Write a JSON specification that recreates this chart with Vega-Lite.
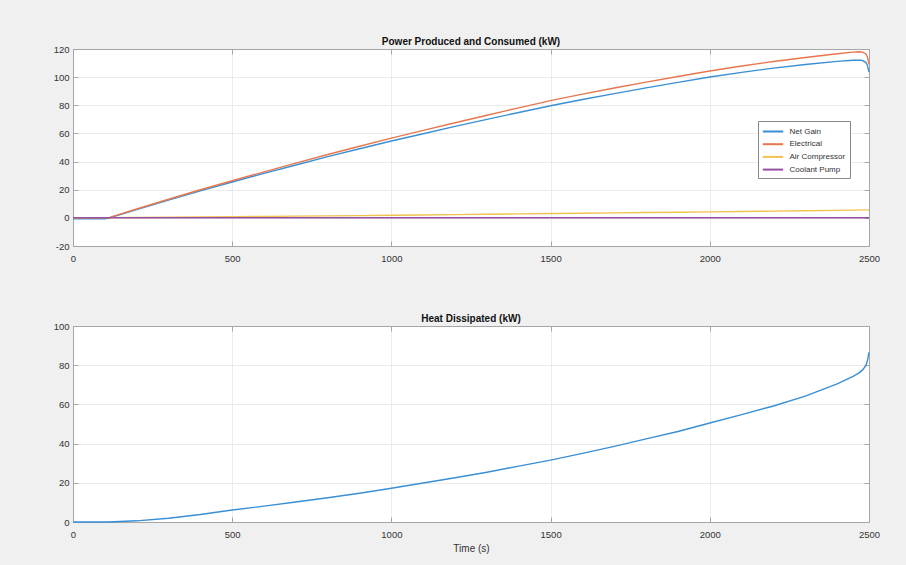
{
  "$schema": "https://vega.github.io/schema/vega-lite/v6.json",
  "padding": {"left": 52, "top": 36, "right": 25, "bottom": 18},
  "datasets": {
    "power": [
      {"t":0,"s":"Net Gain","p":-0.6},{"t":100,"s":"Net Gain","p":-0.6},{"t":110,"s":"Net Gain","p":-0.4},{"t":200,"s":"Net Gain","p":5.8},{"t":300,"s":"Net Gain","p":12.6},{"t":400,"s":"Net Gain","p":19.2},{"t":500,"s":"Net Gain","p":25.5},{"t":600,"s":"Net Gain","p":31.6},{"t":700,"s":"Net Gain","p":37.6},{"t":800,"s":"Net Gain","p":43.5},{"t":900,"s":"Net Gain","p":49.1},{"t":1000,"s":"Net Gain","p":54.6},{"t":1100,"s":"Net Gain","p":59.8},{"t":1200,"s":"Net Gain","p":65.0},{"t":1300,"s":"Net Gain","p":70.0},{"t":1400,"s":"Net Gain","p":74.9},{"t":1500,"s":"Net Gain","p":79.7},{"t":1600,"s":"Net Gain","p":84.1},{"t":1700,"s":"Net Gain","p":88.3},{"t":1800,"s":"Net Gain","p":92.4},{"t":1900,"s":"Net Gain","p":96.3},{"t":2000,"s":"Net Gain","p":100.1},{"t":2100,"s":"Net Gain","p":103.4},{"t":2200,"s":"Net Gain","p":106.4},{"t":2300,"s":"Net Gain","p":109.0},{"t":2400,"s":"Net Gain","p":111.2},{"t":2450,"s":"Net Gain","p":112.0},{"t":2470,"s":"Net Gain","p":112.1},{"t":2480,"s":"Net Gain","p":111.8},{"t":2490,"s":"Net Gain","p":110.5},{"t":2495,"s":"Net Gain","p":108.5},{"t":2500,"s":"Net Gain","p":103.6},
      {"t":0,"s":"Electrical","p":0},{"t":100,"s":"Electrical","p":0},{"t":110,"s":"Electrical","p":0},{"t":200,"s":"Electrical","p":6.3},{"t":300,"s":"Electrical","p":13.2},{"t":400,"s":"Electrical","p":20.0},{"t":500,"s":"Electrical","p":26.4},{"t":600,"s":"Electrical","p":32.7},{"t":700,"s":"Electrical","p":38.9},{"t":800,"s":"Electrical","p":45.0},{"t":900,"s":"Electrical","p":50.9},{"t":1000,"s":"Electrical","p":56.7},{"t":1100,"s":"Electrical","p":62.2},{"t":1200,"s":"Electrical","p":67.6},{"t":1300,"s":"Electrical","p":72.9},{"t":1400,"s":"Electrical","p":78.2},{"t":1500,"s":"Electrical","p":83.3},{"t":1600,"s":"Electrical","p":87.9},{"t":1700,"s":"Electrical","p":92.3},{"t":1800,"s":"Electrical","p":96.5},{"t":1900,"s":"Electrical","p":100.5},{"t":2000,"s":"Electrical","p":104.4},{"t":2100,"s":"Electrical","p":107.9},{"t":2200,"s":"Electrical","p":111.1},{"t":2300,"s":"Electrical","p":114.0},{"t":2400,"s":"Electrical","p":116.6},{"t":2450,"s":"Electrical","p":117.8},{"t":2470,"s":"Electrical","p":118.0},{"t":2480,"s":"Electrical","p":117.8},{"t":2490,"s":"Electrical","p":116.5},{"t":2495,"s":"Electrical","p":114.5},{"t":2500,"s":"Electrical","p":109.0},
      {"t":0,"s":"Air Compressor","p":0.1},{"t":110,"s":"Air Compressor","p":0.15},{"t":200,"s":"Air Compressor","p":0.3},{"t":300,"s":"Air Compressor","p":0.45},{"t":400,"s":"Air Compressor","p":0.6},{"t":500,"s":"Air Compressor","p":0.8},{"t":600,"s":"Air Compressor","p":1.0},{"t":700,"s":"Air Compressor","p":1.2},{"t":800,"s":"Air Compressor","p":1.4},{"t":900,"s":"Air Compressor","p":1.6},{"t":1000,"s":"Air Compressor","p":1.8},{"t":1100,"s":"Air Compressor","p":2.05},{"t":1200,"s":"Air Compressor","p":2.3},{"t":1300,"s":"Air Compressor","p":2.55},{"t":1400,"s":"Air Compressor","p":2.8},{"t":1500,"s":"Air Compressor","p":3.05},{"t":1600,"s":"Air Compressor","p":3.3},{"t":1700,"s":"Air Compressor","p":3.55},{"t":1800,"s":"Air Compressor","p":3.8},{"t":1900,"s":"Air Compressor","p":4.0},{"t":2000,"s":"Air Compressor","p":4.25},{"t":2100,"s":"Air Compressor","p":4.5},{"t":2200,"s":"Air Compressor","p":4.75},{"t":2300,"s":"Air Compressor","p":5.0},{"t":2400,"s":"Air Compressor","p":5.3},{"t":2500,"s":"Air Compressor","p":5.7},
      {"t":0,"s":"Coolant Pump","p":0.1},{"t":500,"s":"Coolant Pump","p":0.1},{"t":1000,"s":"Coolant Pump","p":0.1},{"t":1500,"s":"Coolant Pump","p":0.1},{"t":2000,"s":"Coolant Pump","p":0.1},{"t":2500,"s":"Coolant Pump","p":0.1}
    ],
    "heat": [
      {"t":0,"h":0},{"t":100,"h":0},{"t":110,"h":0},{"t":200,"h":0.6},{"t":300,"h":1.9},{"t":400,"h":3.8},{"t":500,"h":6.1},{"t":600,"h":8.1},{"t":700,"h":10.2},{"t":800,"h":12.4},{"t":900,"h":14.7},{"t":1000,"h":17.2},{"t":1100,"h":19.9},{"t":1200,"h":22.6},{"t":1300,"h":25.4},{"t":1400,"h":28.5},{"t":1500,"h":31.6},{"t":1600,"h":35.0},{"t":1700,"h":38.6},{"t":1800,"h":42.4},{"t":1900,"h":46.2},{"t":2000,"h":50.5},{"t":2100,"h":54.8},{"t":2200,"h":59.2},{"t":2300,"h":64.2},{"t":2400,"h":70.5},{"t":2450,"h":74.3},{"t":2470,"h":76.2},{"t":2480,"h":77.6},{"t":2490,"h":79.8},{"t":2495,"h":82.3},{"t":2500,"h":86.5}
    ]
  },
  "vconcat": [
    {
      "width": 796,
      "height": 197,
      "title": "Power Produced and Consumed (kW)",
      "data": {"name": "power"},
      "layer": [
        {
          "mark": {"type": "line", "strokeWidth": 1.4},
          "encoding": {
            "x": {"field": "t", "type": "quantitative", "scale": {"domain": [0, 2500], "nice": false},
                  "axis": {"title": null, "values": [0, 500, 1000, 1500, 2000, 2500], "grid": true, "labelPadding": 12, "labelExpr": "toString(datum.value)"}},
            "y": {"field": "p", "type": "quantitative", "scale": {"domain": [-20, 120], "nice": false, "zero": false},
                  "axis": {"title": null, "values": [-20, 0, 20, 40, 60, 80, 100, 120], "grid": true, "labelExpr": "toString(datum.value)"}},
            "color": {"field": "s", "type": "nominal",
                      "scale": {"domain": ["Net Gain", "Electrical", "Air Compressor", "Coolant Pump"],
                                "range": ["#3a8fd4", "#e8764c", "#f0c24e", "#9450a2"]},
                      "legend": {"title": null, "orient": "none", "legendX": 685, "legendY": 72}}
          }
        },
        {
          "mark": {"type": "line", "opacity": 0},
          "encoding": {
            "x": {"field": "t", "type": "quantitative",
                  "axis": {"orient": "top", "title": null, "labels": false, "grid": false, "values": [0, 500, 1000, 1500, 2000, 2500]}},
            "y": {"field": "p", "type": "quantitative",
                  "axis": {"orient": "right", "title": null, "labels": false, "grid": false, "values": [-20, 0, 20, 40, 60, 80, 100, 120]}}
          }
        }
      ],
      "resolve": {"axis": {"x": "independent", "y": "independent"}}
    },
    {
      "width": 796,
      "height": 196,
      "title": "Heat Dissipated (kW)",
      "data": {"name": "heat"},
      "layer": [
        {
          "mark": {"type": "line", "strokeWidth": 1.4, "color": "#3a8fd4"},
          "encoding": {
            "x": {"field": "t", "type": "quantitative", "scale": {"domain": [0, 2500], "nice": false},
                  "axis": {"title": "Time (s)", "values": [0, 500, 1000, 1500, 2000, 2500], "grid": true, "labelPadding": 12, "titlePadding": 5, "labelExpr": "toString(datum.value)"}},
            "y": {"field": "h", "type": "quantitative", "scale": {"domain": [0, 100], "nice": false},
                  "axis": {"title": null, "values": [0, 20, 40, 60, 80, 100], "grid": true, "labelExpr": "toString(datum.value)"}}
          }
        },
        {
          "mark": {"type": "line", "opacity": 0},
          "encoding": {
            "x": {"field": "t", "type": "quantitative",
                  "axis": {"orient": "top", "title": null, "labels": false, "grid": false, "values": [0, 500, 1000, 1500, 2000, 2500]}},
            "y": {"field": "h", "type": "quantitative",
                  "axis": {"orient": "right", "title": null, "labels": false, "grid": false, "values": [0, 20, 40, 60, 80, 100]}}
          }
        }
      ],
      "resolve": {"axis": {"x": "independent", "y": "independent"}}
    }
  ],
  "spacing": 50,
  "config": {
    "background": "#f0f0f0",
    "font": "Liberation Sans",
    "view": {"fill": "white", "stroke": "#a6a6a6", "strokeWidth": 1},
    "axis": {
      "domainColor": "#a6a6a6", "tickColor": "#a6a6a6", "tickSize": -5,
      "gridColor": "#ebebeb", "gridWidth": 1,
      "labelColor": "#333333", "labelFont": "Liberation Sans", "labelFontSize": 9.5,
      "labelFlush": false, "labelPadding": 9,
      "titleFont": "Liberation Sans", "titleFontSize": 10, "titleFontWeight": "normal", "titleColor": "#333333", "titlePadding": 4
    },
    "title": {"font": "Liberation Sans", "fontSize": 10, "fontWeight": "bold", "color": "#111111", "offset": -3},
    "legend": {
      "fillColor": "white", "strokeColor": "#888888", "padding": 4,
      "labelFont": "Liberation Sans", "labelFontSize": 8, "labelColor": "#333333",
      "symbolType": "M-1.85,0H1.85", "symbolSize": 121, "symbolStrokeWidth": 2, "symbolOffset": 4.5,
      "rowPadding": 1.7, "labelOffset": 10
    }
  }
}
